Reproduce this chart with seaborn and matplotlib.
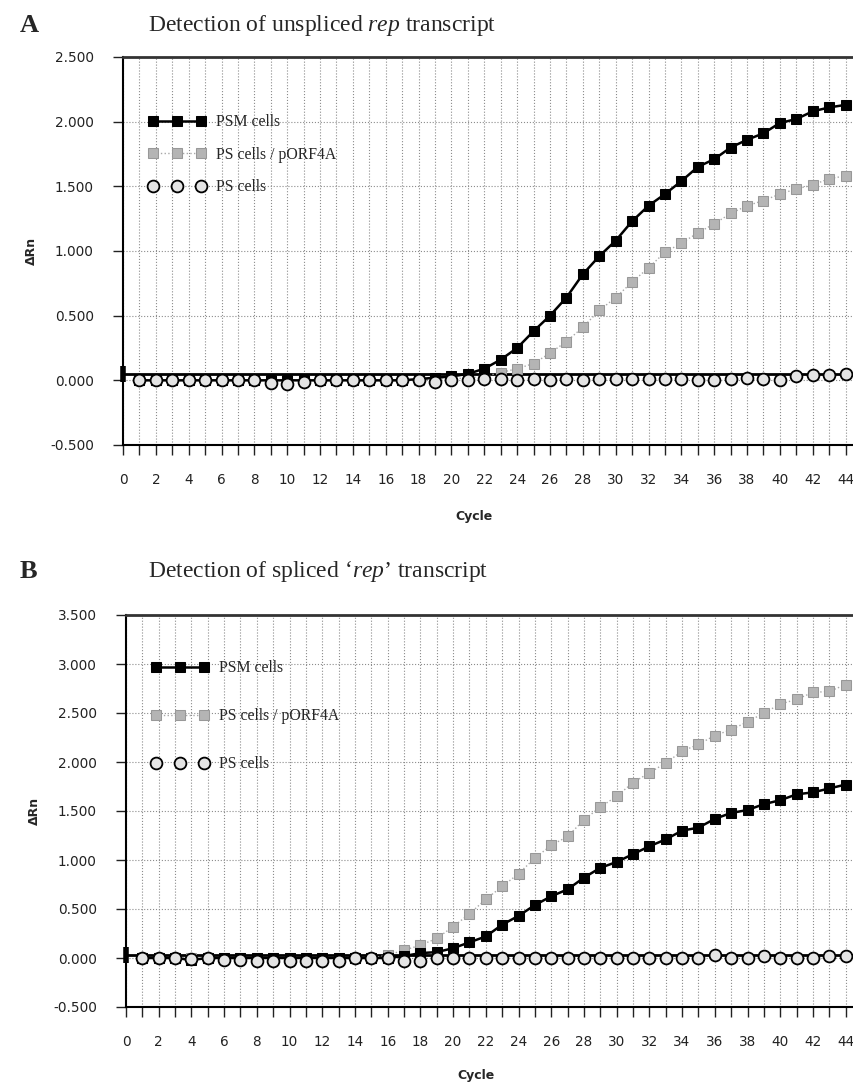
import numpy as np
import pandas as pd
from matplotlib import pyplot as plt
from matplotlib.ticker import MultipleLocator, FuncFormatter
import seaborn as sns

# Cycle numbers (x) shared by both panels
cycles = list(range(1, 45))

# Panel A - unspliced rep transcript (delta Rn)
psm_a = [0.00, 0.00, 0.00, 0.00, 0.00, 0.00, 0.00, 0.00, 0.00, 0.00, 0.00,
         0.00, 0.00, 0.00, 0.00, 0.00, 0.00, 0.01, 0.02, 0.03, 0.05, 0.09,
         0.16, 0.25, 0.38, 0.50, 0.64, 0.82, 0.96, 1.08, 1.23, 1.35, 1.44,
         1.54, 1.65, 1.71, 1.80, 1.86, 1.91, 1.99, 2.02, 2.08, 2.11, 2.13]
orf_a = [0.00, 0.00, 0.00, 0.00, 0.00, 0.00, 0.00, 0.00, 0.00, 0.00, 0.00,
         0.00, 0.00, 0.00, 0.00, 0.00, 0.00, 0.00, 0.01, 0.01, 0.02, 0.03,
         0.06, 0.09, 0.13, 0.21, 0.30, 0.41, 0.54, 0.64, 0.76, 0.87, 0.99,
         1.06, 1.14, 1.21, 1.29, 1.35, 1.39, 1.44, 1.48, 1.51, 1.56, 1.58]
ps_a = [0.00, 0.00, 0.00, 0.00, 0.00, 0.00, 0.00, 0.00, -0.02, -0.03, -0.01,
        0.00, 0.00, 0.00, 0.00, 0.00, 0.00, 0.00, -0.01, 0.00, 0.00, 0.01,
        0.01, 0.00, 0.01, 0.00, 0.01, 0.00, 0.01, 0.01, 0.01, 0.01, 0.01,
        0.01, 0.00, 0.00, 0.01, 0.02, 0.01, 0.00, 0.03, 0.04, 0.04, 0.05]

# Panel B - spliced rep' transcript
psm_b = [0.00, 0.00, 0.00, -0.02, 0.00, 0.00, 0.00, 0.00, 0.00, 0.00, 0.00,
         0.00, 0.00, 0.00, 0.00, 0.00, 0.02, 0.05, 0.06, 0.10, 0.16, 0.22,
         0.34, 0.43, 0.54, 0.63, 0.70, 0.82, 0.92, 0.98, 1.06, 1.14, 1.21,
         1.30, 1.33, 1.42, 1.48, 1.51, 1.57, 1.61, 1.67, 1.69, 1.73, 1.77]
orf_b = [0.00, 0.00, 0.00, 0.00, 0.00, 0.00, 0.00, 0.00, 0.00, 0.00, 0.00,
         0.00, 0.00, 0.00, 0.00, 0.03, 0.08, 0.13, 0.20, 0.32, 0.45, 0.60,
         0.73, 0.86, 1.02, 1.15, 1.24, 1.41, 1.54, 1.65, 1.79, 1.89, 1.99,
         2.11, 2.18, 2.27, 2.33, 2.41, 2.50, 2.59, 2.64, 2.71, 2.72, 2.79]
ps_b = [0.00, 0.00, 0.00, -0.01, 0.00, -0.02, -0.02, -0.03, -0.03, -0.03, -0.03,
        -0.03, -0.03, 0.00, 0.00, 0.00, -0.03, -0.03, 0.00, 0.00, 0.00, 0.00,
        0.00, 0.00, 0.00, 0.00, 0.00, 0.00, 0.00, 0.00, 0.00, 0.00, 0.00,
        0.00, 0.00, 0.03, 0.00, 0.00, 0.02, 0.00, 0.00, 0.00, 0.02, 0.02]

labels = ['PSM cells', 'PS cells / pORF4A', 'PS cells']
threshold_a = 0.05
threshold_b = 0.03

sns.set_style('white')
plt.rcParams['font.family'] = ['DejaVu Sans']
plt.rcParams['mathtext.fontset'] = 'custom'
plt.rcParams['mathtext.rm'] = 'Liberation Serif'
plt.rcParams['mathtext.it'] = 'Liberation Serif:italic'

fig = plt.figure(figsize=(8.54, 10.89), dpi=100)

def px(x0, y_top, y_bot, right=862):
    return [x0 / 854, 1 - y_bot / 1089, (right - x0) / 854, (y_bot - y_top) / 1089]

def draw_panel(ax, psm, orf, ps, ymax, threshold, leg_top, leg_spacing, xlab_y):
    df = pd.DataFrame({'Cycle': cycles, 'psm': psm, 'orf': orf, 'ps': ps})
    ax.axhline(threshold, color='black', lw=2, zorder=2)
    ax.plot([0], [threshold], marker='|', ms=11, mew=4, color='black', zorder=3, clip_on=False)
    sns.lineplot(data=df, x='Cycle', y='orf', ax=ax, color='#a8a8a8', lw=1, ls=':',
                 marker='s', markersize=6.5, markerfacecolor='#b4b4b4', markeredgecolor='#989898',
                 label=labels[1], zorder=3)
    sns.lineplot(data=df, x='Cycle', y='psm', ax=ax, color='black', lw=1.8,
                 marker='s', markersize=6.5, markerfacecolor='black', markeredgecolor='black',
                 label=labels[0], zorder=4)
    sns.lineplot(data=df, x='Cycle', y='ps', ax=ax, color='black', ls='none',
                 marker='o', markersize=8.5, markerfacecolor='#e4e4e4', markeredgecolor='black',
                 markeredgewidth=1.3, label=labels[2], zorder=5)

    ax.set_xlim(0, 45)
    ax.set_ylim(-0.5, ymax)
    ax.xaxis.set_major_locator(MultipleLocator(1))
    ax.xaxis.set_major_formatter(FuncFormatter(lambda v, p: f'{int(v)}' if int(v) % 2 == 0 else ''))
    ax.yaxis.set_major_locator(MultipleLocator(0.5))
    ax.yaxis.set_major_formatter(FuncFormatter(lambda v, p: f'{v:.3f}'))
    ax.grid(True, ls=':', color='#8c8c8c', lw=0.8)
    ax.tick_params(axis='x', direction='out', length=7, width=1, pad=13, labelsize=9.8,
                   bottom=True, colors='#222222')
    ax.tick_params(axis='y', direction='out', length=7, width=1, pad=14, labelsize=9.8,
                   left=True, colors='#222222')
    for s in ['left', 'bottom']:
        ax.spines[s].set_color('black')
        ax.spines[s].set_linewidth(1.5)
    ax.spines['top'].set_color('#333333')
    ax.spines['top'].set_linewidth(2)
    ax.spines['right'].set_visible(False)

    ax.set_xlabel('Cycle', fontsize=9, fontweight='bold')
    ax.xaxis.set_label_coords(0.475, xlab_y)
    ax.set_ylabel('ΔRn', fontsize=9, fontweight='bold')
    ax.yaxis.set_label_coords(-0.115, 0.5)

    h, l = ax.get_legend_handles_labels()
    order = [l.index(name) for name in labels]
    ax.legend([h[i] for i in order], [l[i] for i in order], loc='upper left',
              bbox_to_anchor=(0.034, leg_top), frameon=False,
              numpoints=3, handlelength=3.7, handletextpad=0.6, labelspacing=leg_spacing,
              borderpad=0, borderaxespad=0,
              prop={'family': 'Liberation Serif', 'size': 11.3})

ax_a = fig.add_axes(px(123, 57, 445))
draw_panel(ax_a, psm_a, orf_a, ps_a, 2.5, threshold_a, 0.852, 1.05, -0.167)

ax_b = fig.add_axes(px(126, 615, 1007))
draw_panel(ax_b, psm_b, orf_b, ps_b, 3.5, threshold_b, 0.885, 2.05, -0.158)

fig.text(20 / 854, 1 - 25 / 1089, 'A', fontsize=19, fontweight='bold',
         family='Liberation Serif', va='center')
fig.text(148 / 854, 1 - 25 / 1089, r'Detection of unspliced $\mathit{rep}$ transcript',
         fontsize=17, family='Liberation Serif', va='center')
fig.text(20 / 854, 1 - 572 / 1089, 'B', fontsize=19, fontweight='bold',
         family='Liberation Serif', va='center')
fig.text(148 / 854, 1 - 572 / 1089, r'Detection of spliced ‘$\mathit{rep}$’ transcript',
         fontsize=17, family='Liberation Serif', va='center')

fig.savefig('out.png', dpi=100)
